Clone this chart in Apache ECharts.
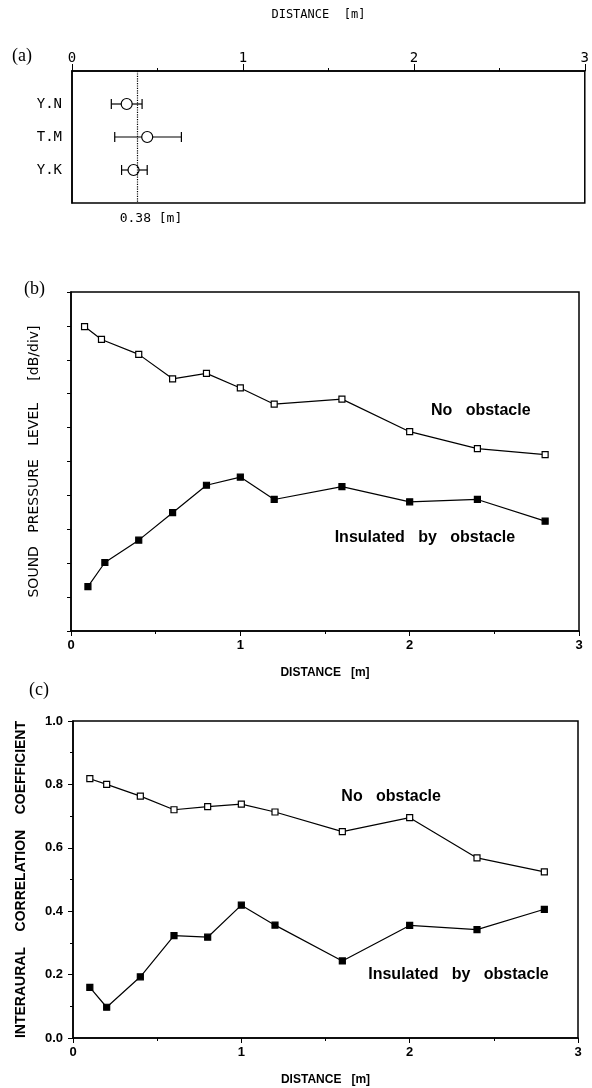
<!DOCTYPE html>
<html>
<head>
<meta charset="utf-8">
<script src="https://cdn.jsdelivr.net/npm/echarts@6/dist/echarts.min.js"></script>
<style>
  html, body { margin: 0; padding: 0; background: #fff; }
  #main { width: 592px; height: 1088px; }
</style>
</head>
<body>
<div id="main"></div>
<script>
// (a) localization per subject [m]
var subjects = ['Y.N', 'T.M', 'Y.K'];
var locMean = [0.32, 0.44, 0.36];
var locLow = [0.23, 0.25, 0.29];
var locHigh = [0.41, 0.64, 0.44];
var locAll = 0.38;

// (b) sound pressure level [div]
var splDistNo = [0.08, 0.18, 0.4, 0.6, 0.8, 1.0, 1.2, 1.6, 2.0, 2.4, 2.8];
var splNo = [8.98, 8.6, 8.16, 7.44, 7.6, 7.17, 6.69, 6.84, 5.88, 5.38, 5.2];
var splDistIns = [0.1, 0.2, 0.4, 0.6, 0.8, 1.0, 1.2, 1.6, 2.0, 2.4, 2.8];
var splIns = [1.31, 2.02, 2.68, 3.49, 4.3, 4.54, 3.88, 4.26, 3.81, 3.88, 3.24];

// (c) interaural correlation coefficient
var iaccDist = [0.1, 0.2, 0.4, 0.6, 0.8, 1.0, 1.2, 1.6, 2.0, 2.4, 2.8];
var iaccNo = [0.818, 0.80, 0.763, 0.72, 0.73, 0.738, 0.713, 0.651, 0.695, 0.568, 0.524];
var iaccIns = [0.16, 0.097, 0.193, 0.323, 0.318, 0.419, 0.356, 0.243, 0.355, 0.342, 0.406];

var mono = 'DejaVu Sans Mono';
var sans = 'Liberation Sans';

function pairs(xs, ys) {
  var arr = [];
  for (var i = 0; i < xs.length; i++) arr.push([xs[i], ys[i]]);
  return arr;
}

var myChart = echarts.init(document.getElementById('main'), null, { renderer: 'canvas' });

var boxStyle = { show: true, borderColor: '#000', borderWidth: 1.5, backgroundColor: 'transparent' };
var blackLine = { lineStyle: { color: '#000', width: 1.5 } };

function distAxis(idx) {
  return {
    type: 'value', gridIndex: idx, min: 0, max: 3, interval: 1,
    axisLine: blackLine,
    axisTick: { show: true, length: 5, lineStyle: { color: '#000' } },
    minorTick: { show: true, splitNumber: 2, length: 3, lineStyle: { color: '#000' } },
    splitLine: { show: false },
    axisLabel: { color: '#000', fontSize: 13, fontWeight: 'bold', fontFamily: sans, margin: 8 },
    name: 'DISTANCE   [m]',
    nameLocation: 'middle',
    nameGap: 36,
    nameTextStyle: { color: '#000', fontSize: 12, fontWeight: 'bold', fontFamily: sans }
  };
}

function lineSeries(xi, yi, data, filled) {
  return {
    type: 'line', xAxisIndex: xi, yAxisIndex: yi,
    data: data,
    symbol: 'rect', symbolSize: 6,
    showAllSymbol: true,
    lineStyle: { color: '#000', width: 1.2 },
    itemStyle: { color: filled ? '#000' : '#fff', borderColor: '#000', borderWidth: 1.2 },
    animation: false
  };
}

// text notes placed in data coordinates
function note(text, x, y) {
  return {
    symbol: 'circle', symbolSize: 1,
    itemStyle: { color: 'transparent' },
    label: { show: true, position: 'inside', formatter: text, color: '#000', fontSize: 16, fontWeight: 'bold', fontFamily: sans },
    data: [{ coord: [x, y] }]
  };
}

var panelTitle = { fontFamily: 'Liberation Serif', fontSize: 18, fontWeight: 'normal', color: '#000' };

var option = {
  backgroundColor: '#fff',
  animation: false,
  title: [
    { text: '(a)', left: 7, top: 42, textStyle: panelTitle },
    { text: '(b)', left: 19, top: 275, textStyle: panelTitle },
    { text: '(c)', left: 24, top: 676, textStyle: panelTitle }
  ],
  grid: [
    Object.assign({ left: 72, top: 71, width: 515, height: 132 }, boxStyle),
    Object.assign({ left: 71, top: 292, width: 508, height: 339 }, boxStyle),
    Object.assign({ left: 73, top: 721, width: 505, height: 317 }, boxStyle)
  ],
  xAxis: [
    {
      type: 'value', gridIndex: 0, position: 'top', min: 0, max: 3, interval: 1,
      axisLine: blackLine,
      axisTick: { show: true, length: 7, lineStyle: { color: '#000' } },
      minorTick: { show: true, splitNumber: 2, length: 3, lineStyle: { color: '#000' } },
      splitLine: { show: false },
      axisLabel: { color: '#000', fontSize: 14, fontFamily: mono, margin: 6 },
      name: 'DISTANCE  [m]', nameLocation: 'middle', nameGap: 50,
      nameTextStyle: { color: '#000', fontSize: 12, fontFamily: mono, padding: [0, 20, 0, 0] }
    },
    distAxis(1),
    distAxis(2)
  ],
  yAxis: [
    {
      type: 'value', gridIndex: 0, min: 0, max: 4, interval: 1, inverse: true,
      axisLine: blackLine, axisTick: { show: false }, splitLine: { show: false },
      axisLabel: {
        color: '#000', fontSize: 14, fontFamily: mono, margin: 10,
        formatter: function(v) { return subjects[v - 1] || ''; }
      }
    },
    {
      type: 'value', gridIndex: 1, min: 0, max: 10, interval: 1,
      axisLine: blackLine,
      axisTick: { show: true, length: 4, lineStyle: { color: '#000' } },
      splitLine: { show: false },
      axisLabel: { show: false },
      name: 'SOUND   PRESSURE   LEVEL     [dB/div]', nameLocation: 'middle', nameGap: 30,
      nameTextStyle: { color: '#000', fontSize: 14, fontFamily: 'DejaVu Sans' }
    },
    {
      type: 'value', gridIndex: 2, min: 0, max: 1, interval: 0.2,
      axisLine: blackLine,
      axisTick: { show: true, length: 5, lineStyle: { color: '#000' } },
      minorTick: { show: true, splitNumber: 2, length: 3, lineStyle: { color: '#000' } },
      splitLine: { show: false },
      axisLabel: { color: '#000', fontSize: 13, fontWeight: 'bold', fontFamily: sans, margin: 10,
        formatter: function(v) { return v.toFixed(1); } },
      name: 'INTERAURAL    CORRELATION    COEFFICIENT', nameLocation: 'middle', nameGap: 45,
      nameTextStyle: { color: '#000', fontSize: 14, fontWeight: 'bold', fontFamily: sans }
    }
  ],
  series: [
    // (a) error bars
    {
      type: 'custom', xAxisIndex: 0, yAxisIndex: 0,
      data: subjects.map(function(s, i) { return [locLow[i], locHigh[i], i + 1]; }),
      renderItem: function(params, api) {
        var a = api.coord([api.value(0), api.value(2)]);
        var b = api.coord([api.value(1), api.value(2)]);
        var st = { stroke: '#000', lineWidth: 1.2 };
        return {
          type: 'group',
          children: [
            { type: 'line', shape: { x1: a[0], y1: a[1], x2: b[0], y2: b[1] }, style: st },
            { type: 'line', shape: { x1: a[0], y1: a[1] - 5, x2: a[0], y2: a[1] + 5 }, style: st },
            { type: 'line', shape: { x1: b[0], y1: b[1] - 5, x2: b[0], y2: b[1] + 5 }, style: st }
          ]
        };
      }
    },
    // (a) means
    {
      type: 'scatter', xAxisIndex: 0, yAxisIndex: 0,
      data: subjects.map(function(s, i) { return [locMean[i], i + 1]; }),
      symbol: 'circle', symbolSize: 11,
      itemStyle: { color: '#fff', borderColor: '#000', borderWidth: 1.2, opacity: 1 },
      z: 3,
      markLine: {
        silent: true, symbol: 'none',
        lineStyle: { color: '#000', type: 'dotted', width: 1.2 },
        label: { show: true, position: 'end', formatter: locAll.toFixed(2) + ' [m]', color: '#000',
          fontSize: 13, fontFamily: mono, distance: 9, padding: [0, 0, 0, 28] },
        data: [[{ coord: [locAll, 0] }, { coord: [locAll, 4] }]]
      }
    },
    // (b)
    Object.assign(lineSeries(1, 1, pairs(splDistNo, splNo), false), { markPoint: note('No   obstacle', 2.42, 6.49) }),
    Object.assign(lineSeries(1, 1, pairs(splDistIns, splIns), true), { markPoint: note('Insulated   by   obstacle', 2.09, 2.77) }),
    // (c)
    Object.assign(lineSeries(2, 2, pairs(iaccDist, iaccNo), false), { markPoint: note('No   obstacle', 1.89, 0.761) }),
    Object.assign(lineSeries(2, 2, pairs(iaccDist, iaccIns), true), { markPoint: note('Insulated   by   obstacle', 2.29, 0.2) })
  ]
};

myChart.setOption(option);
</script>
</body>
</html>
